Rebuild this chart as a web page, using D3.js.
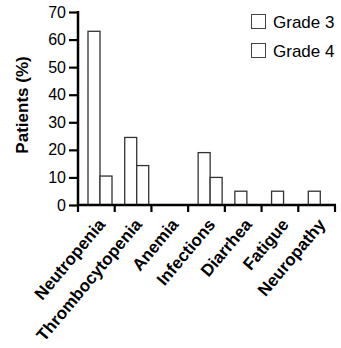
<!DOCTYPE html>
<html>
<head>
<meta charset="utf-8">
<script src="https://cdn.jsdelivr.net/npm/d3@7"></script>
<style>
  body { margin: 0; background: #fff; }
  text { font-family: "Liberation Sans", Arial, sans-serif; fill: #000; }
</style>
</head>
<body>
<div id="chart"></div>
<script>
// Adverse events by grade
const categories = ['Neutropenia', 'Thrombocytopenia', 'Anemia', 'Infections', 'Diarrhea', 'Fatigue', 'Neuropathy'];
const grade3 = [63, 24.5, 0, 19, 5, 5, 5];
const grade4 = [10.5, 14.3, 0, 10, 0, 0, 0];
const seriesNames = ['Grade 3', 'Grade 4'];
const yTicks = [0, 10, 20, 30, 40, 50, 60, 70];

const WIDTH = 341;
const HEIGHT = 348;
const AXIS_X = 78; // left edge of plot (y axis)
const AXIS_RIGHT = 335;
const Y_TOP = 12;
const Y_BOTTOM = 205;
const BAR_WIDTH = 12;
const BAR_OFFSET = 10; // from band start to first bar

const svg = d3.select('#chart')
  .append('svg')
  .attr('width', WIDTH)
  .attr('height', HEIGHT);

const x = d3.scaleBand()
  .domain(categories)
  .range([AXIS_X, AXIS_RIGHT]);

const y = d3.scaleLinear()
  .domain([0, 70])
  .range([Y_BOTTOM, Y_TOP]);

// Bars
const bars = [];
categories.forEach((c, i) => {
  [grade3[i], grade4[i]].forEach((v, j) => {
    if (v > 0) bars.push({ cat: c, series: j, value: v });
  });
});

svg.append('g')
  .selectAll('rect')
  .data(bars)
  .enter()
  .append('rect')
  .attr('x', d => x(d.cat) + BAR_OFFSET + d.series * BAR_WIDTH)
  .attr('y', d => y(d.value))
  .attr('width', BAR_WIDTH)
  .attr('height', d => y(0) - y(d.value))
  .attr('fill', '#fff')
  .attr('stroke', '#333')
  .attr('stroke-width', 1.3);

// Y axis
const yAxis = d3.axisLeft(y)
  .tickValues(yTicks)
  .tickSize(9)
  .tickPadding(3);

const gy = svg.append('g')
  .attr('transform', `translate(${AXIS_X}, 0)`)
  .call(yAxis);
gy.select('.domain').remove();
gy.append('line')
  .attr('x1', 0).attr('x2', 0)
  .attr('y1', y(70) - 1).attr('y2', y(0) + 1)
  .attr('stroke', '#000').attr('stroke-width', 2.5);
gy.selectAll('.tick line').attr('stroke', '#000').attr('stroke-width', 2.2);
gy.selectAll('.tick text')
  .attr('font-size', 16)
  .attr('font-family', '"Liberation Sans", Arial, sans-serif')
  .attr('fill', '#000');

// X axis
const gx = svg.append('g');
gx.append('line')
  .attr('x1', AXIS_X - 1).attr('x2', AXIS_RIGHT + 1)
  .attr('y1', y(0)).attr('y2', y(0))
  .attr('stroke', '#000').attr('stroke-width', 2.5);

const tickPositions = categories.map(c => x(c)).concat([x.range()[1]]);
gx.selectAll('.xtick')
  .data(tickPositions)
  .enter()
  .append('line')
  .attr('class', 'xtick')
  .attr('x1', d => d).attr('x2', d => d)
  .attr('y1', y(0)).attr('y2', y(0) + 7)
  .attr('stroke', '#000').attr('stroke-width', 2.2);

gx.selectAll('.xlabel')
  .data(categories)
  .enter()
  .append('text')
  .attr('class', 'xlabel')
  .attr('text-anchor', 'end')
  .attr('font-size', 17)
  .attr('font-weight', 'bold')
  .attr('transform', d => `translate(${x(d) + 28}, ${y(0) + 20}) rotate(-50)`)
  .text(d => d);

// Y axis title
svg.append('text')
  .attr('transform', `translate(28, 105) rotate(-90)`)
  .attr('text-anchor', 'middle')
  .attr('font-size', 17)
  .attr('font-weight', 'bold')
  .text('Patients (%)');

// Legend
const legend = svg.append('g').attr('transform', 'translate(251, 14)');
seriesNames.forEach((name, i) => {
  legend.append('rect')
    .attr('x', 0.5)
    .attr('y', i * 29 + 0.5)
    .attr('width', 14)
    .attr('height', 14)
    .attr('fill', '#fff')
    .attr('stroke', '#444')
    .attr('stroke-width', 1);
  legend.append('text')
    .attr('x', 22)
    .attr('y', i * 29 + 14)
    .attr('font-size', 17)
    .text(name);
});
</script>
</body>
</html>
